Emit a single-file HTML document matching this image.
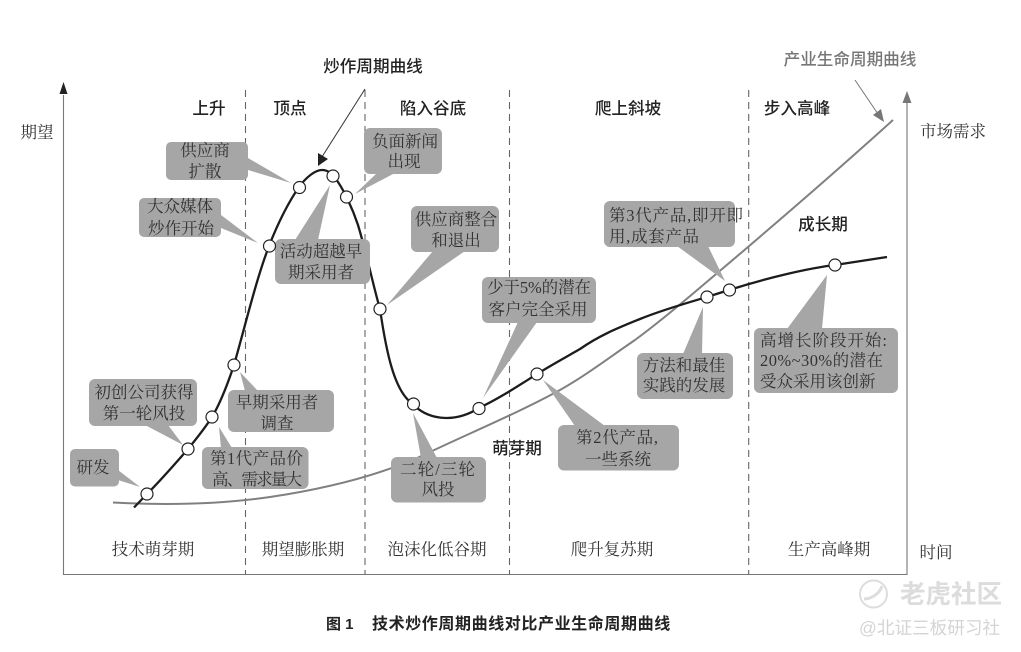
<!DOCTYPE html>
<html><head><meta charset="utf-8"><style>
html,body{margin:0;padding:0;background:#fff}
svg{display:block;filter:blur(.3px)}
.s{font-family:"Liberation Serif","Noto Serif CJK SC",serif;font-size:16.5px;fill:#333;text-anchor:middle}
.l{text-anchor:start}
.h{font-family:"Liberation Sans","Noto Sans CJK SC",sans-serif;font-size:16.6px;font-weight:500;fill:#222;text-anchor:middle}
.b{fill:#a6a6a6}
</style></head><body>
<svg width="1021" height="652" viewBox="0 0 1021 652" xmlns="http://www.w3.org/2000/svg">
<rect width="1021" height="652" fill="#fff"/>
<g fill="none" stroke="#777" stroke-width="1.1">
<path d="M63.5 95V574.500H907V98"/>
<g stroke-dasharray="7 5" stroke="#666"><path d="M245.500 90V575M365 90V575M509.500 90V575M748.700 90V575"/></g>
</g>
<path d="M63.500 82L59.500 94H67.500Z" fill="#222"/>
<path d="M907 91L902.500 103H911.500Z" fill="#777"/>
<path d="M113 502.500C160 505 215 505 270 497C330 488 385 474 430 452C470 433 520 412 560 390C585 376 610 357 635 340C665 318 690 296 715 275C780 220 840 168 893 120" fill="none" stroke="#808080" stroke-width="2"/>
<path d="M134 507.500L147 494C160 481 175 464 188 449C197 438 205 428 212 417C221 402 228 383 234 365C246 323 256 280 269 246C278 223 288 203 299 187C307 176 316 170 322 170C328 170 332 173 338 182C344 191 352 207 358 225C367 255 373 285 380 309C386 350 394 392 413 404C425 418 452 425 479 408C500 398 518 386 537 374C553 364 568 356 580 349C600 335 618 328 640 319C662 310 690 302 707 297L729 290C770 277 810 268 835 265L887 257" fill="none" stroke="#1c1c1c" stroke-width="2.300"/>
<path d="M365 89L320 160" stroke="#333" fill="none" stroke-width="1"/><path d="M318 166L318 153L328 159Z" fill="#222"/>
<path d="M855 80L880 117" stroke="#777" fill="none" stroke-width="1"/><path d="M884 122L873 115L881 109Z" fill="#777"/>
<g class="b">
<rect x="166" y="142" width="82" height="38" rx="5"/><path d="M248 158L291 183L248 170Z"/>
<rect x="139" y="198" width="82" height="39" rx="5"/><path d="M221 215L258 243L221 228Z"/>
<rect x="275" y="239" width="95" height="45" rx="6"/><path d="M295 240L318 240L330 185Z"/>
<rect x="364" y="128" width="78" height="46" rx="6"/><path d="M377 173L395 173L355 194Z"/>
<rect x="411" y="206" width="88" height="46" rx="6"/><path d="M433 251L465 251L387 305Z"/>
<rect x="482" y="277" width="114" height="46" rx="6"/><path d="M518 322L537 322L483 398Z"/>
<rect x="228" y="390" width="106" height="42" rx="6"/><path d="M240 372L258 391L245 391Z"/>
<rect x="202" y="447" width="106.500" height="42" rx="6"/><path d="M219 427L232 448L221 448Z"/>
<rect x="89" y="379" width="108" height="47" rx="6"/><path d="M145 425L168 425L183 445Z"/>
<rect x="70" y="449" width="49" height="37.500" rx="5"/><path d="M118 470L118 480L140 487Z"/>
<rect x="391" y="457" width="95" height="45.500" rx="6"/><path d="M413 413L437 458L421 458Z"/>
<rect x="558" y="425" width="121" height="45.500" rx="6"/><path d="M543 380L605 426L575 426Z"/>
<rect x="637" y="353" width="96" height="46" rx="6"/><path d="M703 307L683 354L702 354Z"/>
<rect x="604" y="201" width="131" height="46" rx="6"/><path d="M677 246L708 246L725 281Z"/>
<rect x="754" y="328" width="144" height="65" rx="6"/><path d="M827 275L787 329L822 329Z"/>
</g>
<g fill="#fff" stroke="#222" stroke-width="1.200">
<circle cx="147" cy="494" r="6"/><circle cx="188" cy="449" r="6"/><circle cx="212" cy="417" r="6"/><circle cx="234" cy="365" r="6"/><circle cx="269.500" cy="246" r="6"/><circle cx="299.500" cy="187.500" r="6"/><circle cx="333" cy="176" r="6"/><circle cx="346.500" cy="197" r="6"/><circle cx="380" cy="309" r="6"/><circle cx="413.500" cy="404" r="6"/><circle cx="479" cy="408.500" r="6"/><circle cx="537" cy="374" r="6"/><circle cx="707" cy="297" r="6"/><circle cx="729.500" cy="290" r="6"/><circle cx="835" cy="265" r="6"/>
</g>
<text class="h" x="373" y="72">炒作周期曲线</text>
<text class="h" x="209" y="114">上升</text>
<text class="h" x="290" y="114">顶点</text>
<text class="h" x="433" y="114">陷入谷底</text>
<text class="h" x="628" y="114">爬上斜坡</text>
<text class="h" x="797" y="114">步入高峰</text>
<text class="h" x="850" y="65" style="fill:#777">产业生命周期曲线</text>
<text class="h" x="823" y="230">成长期</text>
<text class="h" x="517" y="454">萌芽期</text>
<text class="s" x="37" y="138">期望</text>
<text class="s" x="953" y="137">市场需求</text>
<text class="s" x="936" y="558">时间</text>
<text class="s" x="153" y="555">技术萌芽期</text>
<text class="s" x="303" y="555">期望膨胀期</text>
<text class="s" x="437" y="555">泡沫化低谷期</text>
<text class="s" x="612" y="555">爬升复苏期</text>
<text class="s" x="829" y="555">生产高峰期</text>
<text class="s" x="205" y="156">供应商</text><text class="s" x="205" y="177">扩散</text>
<text class="s" x="180" y="212">大众媒体</text><text class="s" x="181" y="234">炒作开始</text>
<text class="s" x="321" y="257">活动超越早</text><text class="s" x="321" y="278">期采用者</text>
<text class="s" x="405" y="147">负面新闻</text><text class="s" x="404" y="167">出现</text>
<text class="s" x="456" y="225">供应商整合</text><text class="s" x="456" y="246">和退出</text>
<text class="s l" x="487" y="293" textLength="104">少于5%的潜在</text><text class="s" x="538" y="315">客户完全采用</text>
<text class="s" x="277" y="408">早期采用者</text><text class="s" x="277" y="429">调查</text>
<text class="s l" x="210" y="464" textLength="93">第1代产品价</text><text class="s l" x="212" y="485" textLength="90">高、需求量大</text>
<text class="s" x="144" y="398">初创公司获得</text><text class="s" x="144" y="419">第一轮风投</text>
<text class="s" x="93" y="473">研发</text>
<text class="s l" x="400" y="475" textLength="75">二轮/三轮</text><text class="s" x="438" y="495">风投</text>
<text class="s l" x="576" y="443" textLength="82">第2代产品,</text><text class="s" x="618" y="465">一些系统</text>
<text class="s" x="684" y="371">方法和最佳</text><text class="s" x="684" y="391">实践的发展</text>
<text class="s l" x="609" y="221" textLength="134">第3代产品,即开即</text><text class="s l" x="609" y="242" textLength="90">用,成套产品</text>
<text class="s l" x="760" y="346" textLength="127">高增长阶段开始:</text><text class="s l" x="760" y="366" textLength="123">20%~30%的潜在</text><text class="s l" x="760" y="387">受众采用该创新</text>
<text class="h" x="326" y="629" style="text-anchor:start;font-weight:700;font-size:15px">图 1</text>
<text class="h" x="372" y="629" style="text-anchor:start;font-weight:700;font-size:16px;letter-spacing:.6px">技术炒作周期曲线对比产业生命周期曲线</text>
<circle cx="873.500" cy="594" r="13.500" fill="none" stroke="#ddd" stroke-width="2"/>
<path d="M864 599C872 599 880 593 882 586" fill="none" stroke="#ddd" stroke-width="3"/>
<text x="900" y="603" style="font-family:'Liberation Sans','Noto Sans CJK SC',sans-serif;font-size:25.500px;font-weight:700;fill:#dcdcdc">老虎社区</text>
<text x="859" y="634" style="font-family:'Liberation Sans','Noto Sans CJK SC',sans-serif;font-size:17.600px;fill:#d4d4d4">@北证三板研习社</text>
</svg>
</body></html>
